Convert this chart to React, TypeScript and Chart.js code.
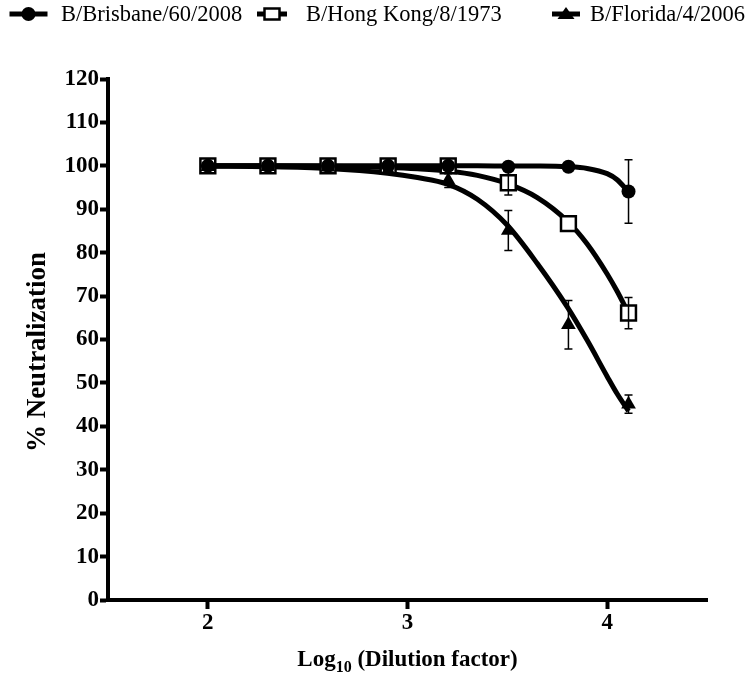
import React, { useEffect, useRef } from "react";
import { Chart, registerables } from "chart.js";

Chart.register(...registerables);

// ---- data ----
const seriesNames = ["B/Brisbane/60/2008", "B/Hong Kong/8/1973", "B/Florida/4/2006"];

const doseLog = [2.0, 2.301, 2.602, 2.903, 3.204, 3.505, 3.806, 4.107];
const brisbaneMean = [100, 100, 100, 100, 100, 99.8, 99.8, 94.1];
const brisbaneErr = [0, 0, 0, 0, 0, 0.3, 0.3, 7.3];
const hongKongMean = [100, 100, 100, 100, 100, 96.1, 86.7, 66.1];
const hongKongErr = [0, 0, 0, 0, 0, 2.8, 0.6, 3.6];
const floridaMean = [99.8, 99.8, 99.7, 99.0, 96.6, 85.1, 63.4, 45.1];
const floridaErr = [0, 0, 0, 0.4, 1.6, 4.6, 5.6, 2.1];

const curveLog = [2.0, 2.3, 2.6, 2.9, 3.05, 3.2, 3.35, 3.5, 3.65, 3.8, 3.9, 4.0, 4.05, 4.107];
const brisbaneCurve = [100, 100, 100, 100, 100, 100, 100, 99.97, 99.95, 99.8, 99.4, 98.2, 96.8, 94.0];
const hongKongCurve = [100, 100, 99.9, 99.6, 99.3, 98.8, 97.8, 95.9, 92.7, 87.3, 82.0, 75.1, 71.1, 66.0];
const floridaCurve = [99.9, 99.8, 99.4, 98.3, 97.3, 95.8, 92.3, 86.3, 77.5, 67.5, 59.8, 51.5, 47.5, 43.5];

const xTickValues = [2, 3, 4];
const yTickStep = 10;
const xRange = [1.5, 4.5];
const yRange = [0, 120];

const serif = "'Liberation Serif', 'Times New Roman', serif";

const pts = (xs: number[], ys: number[]) => xs.map((x, i) => ({ x, y: ys[i] }));

// draw order: circles on top, then triangles, then squares, then fitted curves
const markerStyles = [
  { pointStyle: "circle", radius: 7, fill: "#000", border: 0, order: 0 },
  { pointStyle: "rect", radius: 10.5, fill: "#fff", border: 2.5, order: 2 },
  { pointStyle: "triangle", radius: 8.5, fill: "#000", border: 0, order: 1 },
];

const means = [brisbaneMean, hongKongMean, floridaMean];
const errs = [brisbaneErr, hongKongErr, floridaErr];
const curves = [brisbaneCurve, hongKongCurve, floridaCurve];

function drawMarker(ctx: CanvasRenderingContext2D, kind: string, x: number, y: number) {
  ctx.save();
  ctx.lineWidth = 2.5;
  ctx.strokeStyle = "#000";
  if (kind === "circle") {
    ctx.fillStyle = "#000";
    ctx.beginPath();
    ctx.arc(x, y, 7, 0, Math.PI * 2);
    ctx.fill();
  } else if (kind === "rect") {
    ctx.fillStyle = "#fff";
    ctx.beginPath();
    ctx.rect(x - 7.5, y - 5.5, 15, 11);
    ctx.fill();
    ctx.stroke();
  } else {
    ctx.fillStyle = "#000";
    ctx.beginPath();
    ctx.moveTo(x, y - 7);
    ctx.lineTo(x + 8.5, y + 5);
    ctx.lineTo(x - 8.5, y + 5);
    ctx.closePath();
    ctx.fill();
  }
  ctx.restore();
}

const decorPlugin = {
  id: "decor",
  afterDatasetsDraw(chart: any) {
    const ctx: CanvasRenderingContext2D = chart.ctx;
    const xs = chart.scales.x;
    const ys = chart.scales.y;
    // error bars
    ctx.save();
    ctx.strokeStyle = "#000";
    ctx.lineWidth = 1.5;
    means.forEach((m, si) => {
      m.forEach((v, i) => {
        const e = errs[si][i];
        if (e < 1) return;
        const px = xs.getPixelForValue(doseLog[i]);
        const top = ys.getPixelForValue(v + e);
        const bot = ys.getPixelForValue(v - e);
        ctx.beginPath();
        ctx.moveTo(px, top);
        ctx.lineTo(px, bot);
        ctx.moveTo(px - 4, top);
        ctx.lineTo(px + 4, top);
        ctx.moveTo(px - 4, bot);
        ctx.lineTo(px + 4, bot);
        ctx.stroke();
      });
    });
    ctx.restore();
  },
  afterDraw(chart: any) {
    const ctx: CanvasRenderingContext2D = chart.ctx;
    const area = chart.chartArea;
    // legend
    const legendCenters = [28.5, 272, 566];
    const legendHalf = [19, 15, 14];
    const legendTextX = [61, 306, 590];
    const ly = 14;
    ctx.save();
    ctx.font = `22.5px ${serif}`;
    ctx.fillStyle = "#000";
    ctx.textBaseline = "middle";
    seriesNames.forEach((name, i) => {
      const cx = legendCenters[i];
      ctx.strokeStyle = "#000";
      ctx.lineWidth = 5;
      ctx.beginPath();
      ctx.moveTo(cx - legendHalf[i], ly);
      ctx.lineTo(cx + legendHalf[i], ly);
      ctx.stroke();
      drawMarker(ctx, markerStyles[i].pointStyle, cx, ly);
      ctx.fillText(name, legendTextX[i], ly + 1);
    });
    ctx.restore();

    // y title
    ctx.save();
    ctx.font = `bold 27px ${serif}`;
    ctx.fillStyle = "#000";
    ctx.textAlign = "center";
    ctx.textBaseline = "middle";
    ctx.translate(38, 352);
    ctx.rotate(-Math.PI / 2);
    ctx.fillText("% Neutralization", 0, 0);
    ctx.restore();

    // x title with subscript
    ctx.save();
    ctx.fillStyle = "#000";
    ctx.textBaseline = "alphabetic";
    const big = `bold 23px ${serif}`;
    const small = `bold 16px ${serif}`;
    ctx.font = big;
    const w1 = ctx.measureText("Log").width;
    const w3 = ctx.measureText(" (Dilution factor)").width;
    ctx.font = small;
    const w2 = ctx.measureText("10").width;
    const total = w1 + w2 + w3;
    const cx = (area.left + area.right) / 2;
    let x = cx - total / 2;
    const base = 666;
    ctx.font = big;
    ctx.fillText("Log", x, base);
    x += w1;
    ctx.font = small;
    ctx.fillText("10", x, base + 6);
    x += w2;
    ctx.font = big;
    ctx.fillText(" (Dilution factor)", x, base);
    ctx.restore();
  },
};

export default function App() {
  const ref = useRef<HTMLCanvasElement | null>(null);
  useEffect(() => {
    if (!ref.current) return;
    const datasets: any[] = [];
    seriesNames.forEach((name, i) => {
      datasets.push({
        label: name,
        data: pts(doseLog, means[i]),
        showLine: false,
        pointStyle: markerStyles[i].pointStyle,
        pointRadius: markerStyles[i].radius,
        pointBackgroundColor: markerStyles[i].fill,
        pointBorderColor: "#000",
        pointBorderWidth: markerStyles[i].border,
        order: markerStyles[i].order,
      });
    });
    seriesNames.forEach((name, i) => {
      datasets.push({
        label: name + " fit",
        data: pts(curveLog, curves[i]),
        showLine: true,
        borderColor: "#000",
        borderWidth: 5,
        pointRadius: 0,
        cubicInterpolationMode: "monotone",
        fill: false,
        order: 3,
      });
    });
    const chart = new Chart(ref.current, {
      type: "scatter",
      data: { datasets },
      plugins: [decorPlugin],
      options: {
        animation: false,
        responsive: false,
        maintainAspectRatio: false,
        layout: { padding: { top: 79, right: 38, left: 0, bottom: 0 } },
        plugins: {
          legend: { display: false },
          tooltip: { enabled: false },
        },
        scales: {
          x: {
            type: "linear",
            min: xRange[0],
            max: xRange[1],
            afterBuildTicks: (s: any) => {
              s.ticks = xTickValues.map((v) => ({ value: v }));
            },
            afterFit: (s: any) => {
              s.height = 77;
            },
            grid: { display: true, drawOnChartArea: false, drawTicks: true, tickLength: 9, tickWidth: 4, tickColor: "#000" },
            border: { display: true, color: "#000", width: 4 },
            ticks: { color: "#000", font: { family: serif, size: 23, weight: "bold" }, padding: 0 },
          },
          y: {
            type: "linear",
            min: yRange[0],
            max: yRange[1],
            ticks: { stepSize: yTickStep, color: "#000", font: { family: serif, size: 23, weight: "bold" }, padding: 1 },
            afterFit: (s: any) => {
              s.width = 108;
            },
            grid: { display: true, drawOnChartArea: false, drawTicks: true, tickLength: 8, tickWidth: 4, tickColor: "#000" },
            border: { display: true, color: "#000", width: 4 },
          },
        },
      } as any,
    });
    return () => chart.destroy();
  }, []);
  return (
    <div style={{ position: "fixed", left: 0, top: 0, width: 745, height: 677, background: "#fff" }}>
      <canvas ref={ref} width={745} height={677} style={{ display: "block" }} />
    </div>
  );
}
